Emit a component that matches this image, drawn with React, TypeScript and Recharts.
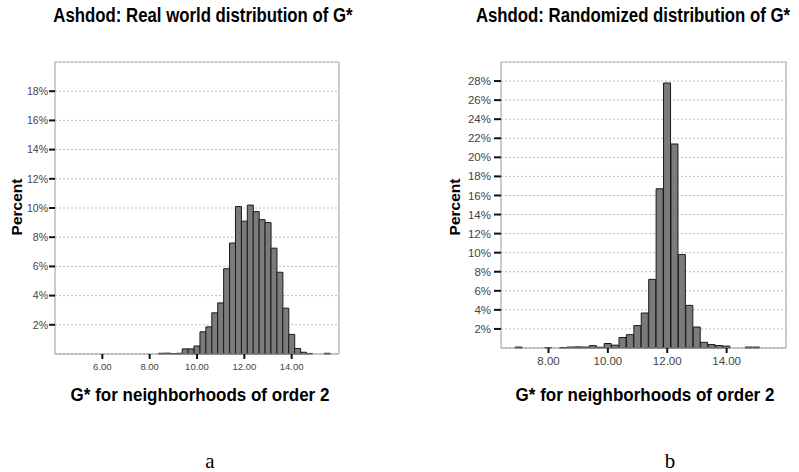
import React from "react";
import { BarChart, Bar, XAxis, YAxis, CartesianGrid, ReferenceLine } from "recharts";

// ---- Data ----
const realBins = [8.5, 8.75, 9.0, 9.25, 9.5, 9.75, 10.0, 10.25, 10.5, 10.75, 11.0, 11.25, 11.5, 11.75, 12.0, 12.25, 12.5, 12.75, 13.0, 13.25, 13.5, 13.75, 14.0, 14.25, 14.5, 14.75, 15.0, 15.25, 15.5];
const realPercent = [0.05, 0.06, 0.03, 0.05, 0.35, 0.35, 0.55, 1.52, 1.86, 2.82, 3.5, 5.84, 7.6, 10.1, 9.1, 10.2, 9.75, 9.2, 9.0, 7.25, 5.6, 3.14, 1.34, 0.38, 0.12, 0.04, 0, 0, 0.05];

const randBins = [7.0, 7.25, 7.5, 7.75, 8.0, 8.25, 8.5, 8.75, 9.0, 9.25, 9.5, 9.75, 10.0, 10.25, 10.5, 10.75, 11.0, 11.25, 11.5, 11.75, 12.0, 12.25, 12.5, 12.75, 13.0, 13.25, 13.5, 13.75, 14.0, 14.25, 14.5, 14.75, 15.0];
const randPercent = [0.1, 0, 0, 0, 0.05, 0, 0.05, 0.1, 0.12, 0.1, 0.25, 0.08, 0.47, 0.3, 1.1, 1.4, 2.35, 3.67, 7.2, 16.7, 27.8, 21.4, 9.8, 4.47, 2.2, 0.6, 0.36, 0.26, 0.2, 0, 0, 0.1, 0.1];

const realXTicks = [6, 8, 10, 12, 14];
const realYTicks = [2, 4, 6, 8, 10, 12, 14, 16, 18];
const randXTicks = [8, 10, 12, 14];
const randYTicks = [2, 4, 6, 8, 10, 12, 14, 16, 18, 20, 22, 24, 26, 28];

const titleA = "Ashdod: Real world distribution of G*";
const titleB = "Ashdod: Randomized distribution of G*";
const xLabel = "G* for neighborhoods of order 2";
const yLabel = "Percent";

const realData = realBins.map((x, i) => ({ x, p: realPercent[i] }));
const randData = randBins.map((x, i) => ({ x, p: randPercent[i] }));

const sans = "'Liberation Sans', Arial, sans-serif";
const leftYTick = { fontFamily: sans, fontSize: 10.5, fill: "#444" };
const leftXTick = { fontFamily: sans, fontSize: 9.5, fill: "#444" };
const rightYTick = { fontFamily: sans, fontSize: 11.5, fill: "#444" };
const rightXTick = { fontFamily: sans, fontSize: 11.5, fill: "#444" };

function Txt({ x, y, children, size, rotate, family, weight, sy }: any) {
  const scale = sy ? ` scale(1, ${sy})` : "";
  return (
    <div
      style={{
        position: "absolute",
        left: x,
        top: y,
        transform: `translate(-50%, -50%)${rotate ? ` rotate(${rotate}deg)` : ""}${scale}`,
        whiteSpace: "nowrap",
        fontFamily: family || sans,
        fontWeight: weight || "bold",
        fontSize: size,
        color: "#000",
        lineHeight: 1,
      }}
    >
      {children}
    </div>
  );
}

export default function App() {
  return (
    <div style={{ position: "absolute", left: 0, top: 0, width: 799, height: 472, background: "#fff", overflow: "hidden" }}>
      <div style={{ position: "absolute", left: 0, top: 0 }}>
        <BarChart width={400} height={472} data={realData} margin={{ top: 62, right: 61, bottom: 0, left: 0 }} barCategoryGap={0} barGap={0}>
          <CartesianGrid horizontal vertical={false} stroke="#bbb" strokeDasharray="2 2" />
          <XAxis
            dataKey="x"
            type="number"
            domain={[4, 16]}
            ticks={realXTicks}
            interval={0}
            tickFormatter={(v: number) => v.toFixed(2)}
            height={118}
            tick={leftXTick}
            tickSize={5}
            tickMargin={4}
            tickLine={{ stroke: "#111", strokeWidth: 2 }}
            axisLine={{ stroke: "#999" }}
          />
          <YAxis
            type="number"
            domain={[0, 20]}
            ticks={realYTicks}
            interval={0}
            tickFormatter={(v: number) => `${v}%`}
            width={55}
            tick={leftYTick}
            tickSize={6}
            tickMargin={1}
            tickLine={{ stroke: "#111", strokeWidth: 2 }}
            axisLine={{ stroke: "#999" }}
          />
          <ReferenceLine y={20} stroke="#bbb" />
          <ReferenceLine x={16} stroke="#999" />
          <Bar dataKey="p" fill="#7b7b7b" stroke="#1a1a1a" strokeWidth={1} isAnimationActive={false} />
        </BarChart>
      </div>
      <div style={{ position: "absolute", left: 400, top: 0 }}>
        <BarChart width={399} height={472} data={randData} margin={{ top: 62, right: 13, bottom: 0, left: 0 }} barCategoryGap={0} barGap={0}>
          <CartesianGrid horizontal vertical={false} stroke="#bbb" strokeDasharray="2 2" />
          <XAxis
            dataKey="x"
            type="number"
            domain={[6.4, 16]}
            ticks={randXTicks}
            interval={0}
            tickFormatter={(v: number) => v.toFixed(2)}
            height={124}
            tick={rightXTick}
            tickSize={5}
            tickMargin={4}
            tickLine={{ stroke: "#111", strokeWidth: 2 }}
            axisLine={{ stroke: "#999" }}
          />
          <YAxis
            type="number"
            domain={[0, 30]}
            ticks={randYTicks}
            interval={0}
            tickFormatter={(v: number) => `${v}%`}
            width={101}
            tick={rightYTick}
            tickSize={7}
            tickMargin={3}
            tickLine={{ stroke: "#111", strokeWidth: 2 }}
            axisLine={{ stroke: "#999" }}
          />
          <ReferenceLine y={30} stroke="#bbb" />
          <ReferenceLine x={16} stroke="#999" />
          <Bar dataKey="p" fill="#7b7b7b" stroke="#1a1a1a" strokeWidth={1} isAnimationActive={false} />
        </BarChart>
      </div>
      <Txt x={203} y={16} size={16.8} sy={1.2}>{titleA}</Txt>
      <Txt x={633} y={16} size={16.8} sy={1.2}>{titleB}</Txt>
      <Txt x={200} y={395} size={17} sy={1.12}>{xLabel}</Txt>
      <Txt x={645} y={395} size={17} sy={1.12}>{xLabel}</Txt>
      <Txt x={17} y={207} size={15.5} rotate={-90}>{yLabel}</Txt>
      <Txt x={455} y={207} size={15.5} rotate={-90}>{yLabel}</Txt>
      <Txt x={210} y={461} size={21} family="'Liberation Serif', 'Times New Roman', serif" weight="normal">a</Txt>
      <Txt x={670} y={461} size={21} family="'Liberation Serif', 'Times New Roman', serif" weight="normal">b</Txt>
    </div>
  );
}
